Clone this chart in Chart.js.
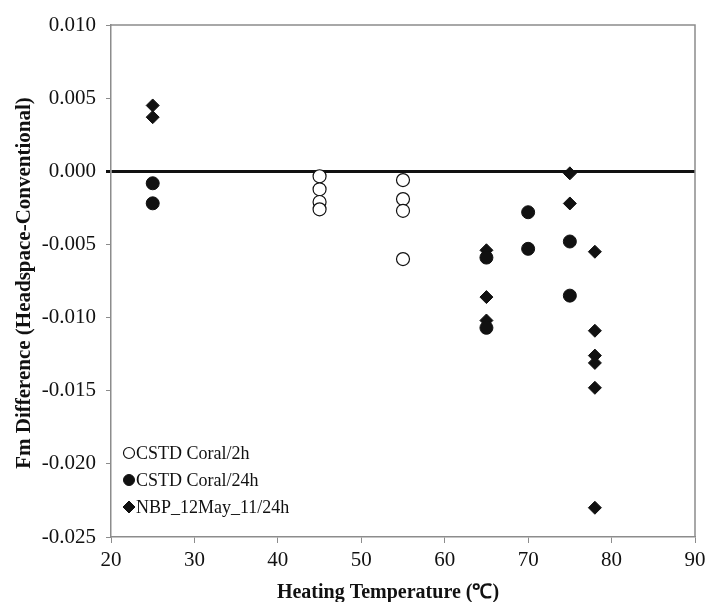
<!DOCTYPE html>
<html>
<head>
<meta charset="utf-8">
<script src="https://cdn.jsdelivr.net/npm/chart.js@4.4.1/dist/chart.umd.min.js"></script>
<style>
  html, body { margin: 0; padding: 0; background: #fff; }
  #wrap { width: 706px; height: 602px; }
</style>
</head>
<body>
<div id="wrap"><canvas id="fmChart"></canvas></div>
<script>
// Data
const coral2hX = [45, 45, 45, 45, 55, 55, 55, 55];
const coral2hY = [-0.00034, -0.00123, -0.0021, -0.0026, -0.0006, -0.0019, -0.0027, -0.0060];

const coral24hX = [25, 25, 65, 65, 70, 70, 75, 75];
const coral24hY = [-0.00082, -0.00219, -0.0059, -0.0107, -0.0028, -0.0053, -0.0048, -0.0085];

const nbpX = [25, 25, 65, 65, 65, 75, 75, 78, 78, 78, 78, 78, 78];
const nbpY = [0.0045, 0.0037, -0.0054, -0.0086, -0.0102, -0.00014, -0.0022, -0.0055, -0.0109, -0.0126, -0.0131, -0.0148, -0.0230];

const seriesLabels = ['CSTD Coral/2h', 'CSTD Coral/24h', 'NBP_12May_11/24h'];
const xTitle = 'Heating Temperature (℃)';
const yTitle = 'Fm Difference (Headspace-Conventional)';

const toPoints = (xs, ys) => xs.map((x, i) => ({ x: x, y: ys[i] }));

const axisGray = '#8c8c8c';
const serif = "'Liberation Serif', 'Times New Roman', serif";

// frame on top/right, axis titles and legend inside the plot area
const framePlugin = {
    id: 'frame',
    afterDraw(chart) {
        const { ctx, chartArea: a } = chart;
        ctx.save();
        ctx.strokeStyle = axisGray;
        ctx.lineWidth = 1.5;
        ctx.beginPath();
        ctx.moveTo(a.left, a.top);
        ctx.lineTo(a.right, a.top);
        ctx.lineTo(a.right, a.bottom);
        ctx.stroke();

        // axis titles
        ctx.fillStyle = '#111';
        ctx.textAlign = 'center';
        ctx.textBaseline = 'middle';
        ctx.font = 'bold 20px ' + serif;
        ctx.fillText(xTitle, 388, 593);
        ctx.save();
        ctx.translate(25, 283);
        ctx.rotate(-Math.PI / 2);
        ctx.font = 'bold 21px ' + serif;
        ctx.fillText(yTitle, 0, 0);
        ctx.restore();

        // legend
        ctx.textAlign = 'left';
        ctx.font = '18px ' + serif;
        const lx = a.left + 18;
        let ly = 453;
        chart.data.datasets.forEach(ds => {
            ctx.save();
            ctx.fillStyle = ds.backgroundColor;
            ctx.strokeStyle = ds.borderColor;
            ctx.lineWidth = ds.borderWidth;
            ctx.beginPath();
            if (ds.pointStyle === 'rectRot') {
                const r = 6;
                ctx.moveTo(lx, ly - r);
                ctx.lineTo(lx + r, ly);
                ctx.lineTo(lx, ly + r);
                ctx.lineTo(lx - r, ly);
                ctx.closePath();
            } else {
                ctx.arc(lx, ly, 5.5, 0, Math.PI * 2);
            }
            ctx.fill();
            ctx.stroke();
            ctx.restore();
            ctx.fillText(ds.label, lx + 7, ly + 1);
            ly += 27;
        });
        ctx.restore();
    }
};

new Chart(document.getElementById('fmChart'), {
    type: 'scatter',
    data: {
        datasets: [
            {
                label: seriesLabels[0],
                data: toPoints(coral2hX, coral2hY),
                pointStyle: 'circle',
                pointRadius: 6.5,
                backgroundColor: '#ffffff',
                borderColor: '#111',
                borderWidth: 1.2
            },
            {
                label: seriesLabels[1],
                data: toPoints(coral24hX, coral24hY),
                pointStyle: 'circle',
                pointRadius: 6.5,
                backgroundColor: '#111',
                borderColor: '#111',
                borderWidth: 1
            },
            {
                label: seriesLabels[2],
                data: toPoints(nbpX, nbpY),
                pointStyle: 'rectRot',
                pointRadius: 6.5,
                backgroundColor: '#111',
                borderColor: '#111',
                borderWidth: 1
            }
        ]
    },
    options: {
        responsive: true,
        maintainAspectRatio: false,
        animation: false,
        layout: { padding: { top: 25, right: 11, left: 0, bottom: 0 } },
        plugins: {
            legend: { display: false },
            tooltip: { enabled: false }
        },
        scales: {
            x: {
                type: 'linear',
                min: 20,
                max: 90,
                ticks: {
                    stepSize: 10,
                    color: '#111',
                    font: { family: serif, size: 21 },
                    padding: 5
                },
                grid: {
                    drawOnChartArea: false,
                    drawTicks: true,
                    tickLength: 6,
                    tickColor: axisGray
                },
                border: { color: axisGray, width: 1.5 },
                afterFit(scale) {
                    scale.height = 65;
                    scale.paddingLeft = 0;
                    scale.paddingRight = 0;
                }
            },
            y: {
                type: 'linear',
                min: -0.025,
                max: 0.010,
                ticks: {
                    stepSize: 0.005,
                    color: '#111',
                    font: { family: serif, size: 21 },
                    padding: 10,
                    callback: v => v.toFixed(3)
                },
                grid: {
                    drawTicks: true,
                    tickLength: 5,
                    tickColor: ctx => Math.abs(ctx.tick.value) < 1e-9 ? '#111' : axisGray,
                    color: ctx => Math.abs(ctx.tick.value) < 1e-9 ? '#111' : 'rgba(0,0,0,0)',
                    lineWidth: ctx => Math.abs(ctx.tick.value) < 1e-9 ? 3 : 1
                },
                border: { color: axisGray, width: 1.5 },
                afterFit(scale) { scale.width = 111; }
            }
        }
    },
    plugins: [framePlugin]
});
</script>
</body>
</html>
